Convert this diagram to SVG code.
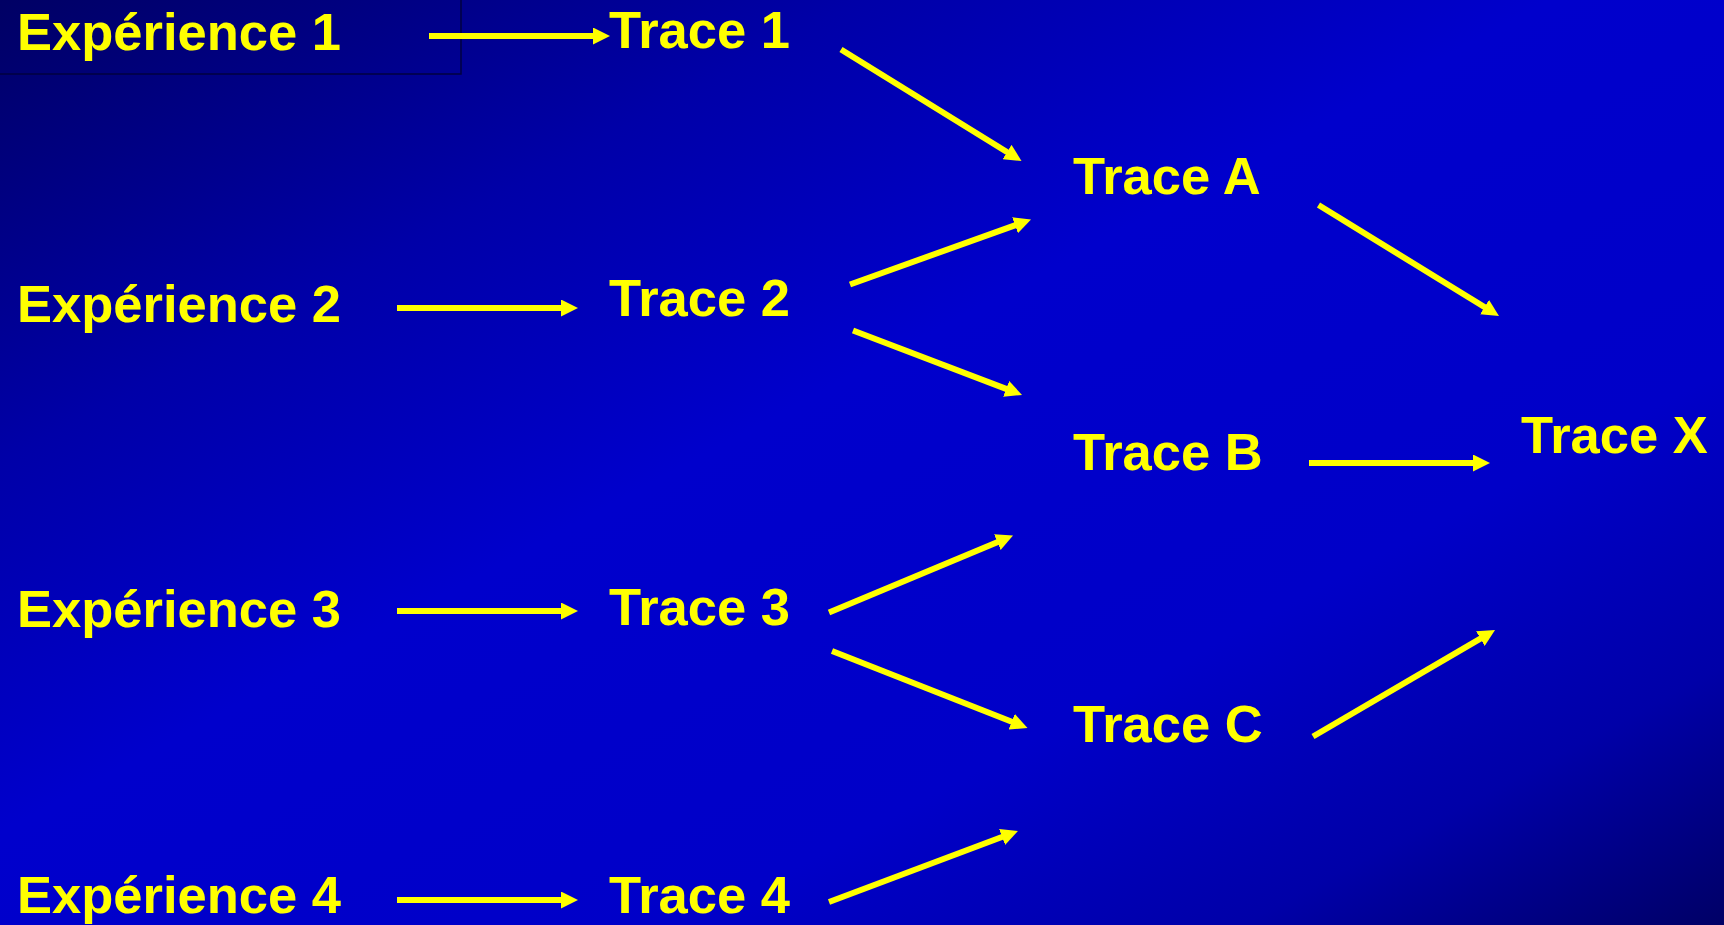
<svg xmlns="http://www.w3.org/2000/svg" width="1724" height="925" viewBox="0 0 1724 925">
<defs>
<linearGradient id="bg" x1="0" y1="0" x2="1" y2="1">
<stop offset="0" stop-color="#000064"/>
<stop offset="0.25" stop-color="#0000A8"/>
<stop offset="0.45" stop-color="#0000CC"/>
<stop offset="0.7" stop-color="#0000C8"/>
<stop offset="0.86" stop-color="#0000A8"/>
<stop offset="1" stop-color="#000066"/>
</linearGradient>
<marker id="ah" markerUnits="userSpaceOnUse" viewBox="0 0 17 17" refX="7" refY="8.5" markerWidth="17" markerHeight="17" orient="auto">
<path d="M0,0 L17,8.5 L0,17 z" fill="#FFFF00"/>
</marker>
</defs>
<style>
.t{font-family:"Liberation Sans",Arial,sans-serif;font-weight:bold;font-size:52.5px;fill:#FFFF00}
.c line{stroke:#FFFF00;stroke-width:6;marker-end:url(#ah)}
</style>
<rect x="0" y="0" width="1724" height="925" fill="url(#bg)"/>
<path d="M0,74 H461 V0" fill="none" stroke="#000040" stroke-width="1.5"/>
<g id="exp1"><text class="t" x="17" y="50">Expérience 1</text></g>
<g id="exp2"><text class="t" x="17" y="322">Expérience 2</text></g>
<g id="exp3"><text class="t" x="17" y="627">Expérience 3</text></g>
<g id="exp4"><text class="t" x="17" y="913">Expérience 4</text></g>
<g id="trace1"><text class="t" x="609" y="48">Trace 1</text></g>
<g id="trace2"><text class="t" x="609" y="316">Trace 2</text></g>
<g id="trace3"><text class="t" x="609" y="625">Trace 3</text></g>
<g id="trace4"><text class="t" x="609" y="913">Trace 4</text></g>
<g id="traceA"><text class="t" x="1073" y="194">Trace A</text></g>
<g id="traceB"><text class="t" x="1073" y="470">Trace B</text></g>
<g id="traceC"><text class="t" x="1073" y="742">Trace C</text></g>
<g id="traceX"><text class="t" x="1521" y="453">Trace X</text></g>
<g id="connectors" class="c">
<line x1="429" y1="36" x2="600" y2="36"/>
<line x1="397" y1="308" x2="568" y2="308"/>
<line x1="397" y1="611" x2="568" y2="611"/>
<line x1="397" y1="900" x2="568" y2="900"/>
<line x1="841" y1="49.5" x2="1013" y2="155.75"/>
<line x1="850" y1="284.5" x2="1021.6" y2="222.9"/>
<line x1="853" y1="330.5" x2="1012.7" y2="391.4"/>
<line x1="1318.5" y1="205" x2="1490.5" y2="310.8"/>
<line x1="1309" y1="463" x2="1480" y2="463"/>
<line x1="829" y1="612.5" x2="1003.8" y2="539.4"/>
<line x1="832" y1="651" x2="1018.2" y2="724.3"/>
<line x1="1313" y1="736.5" x2="1486.4" y2="635.1"/>
<line x1="829" y1="902" x2="1008.6" y2="834.5"/>
</g>
</svg>
